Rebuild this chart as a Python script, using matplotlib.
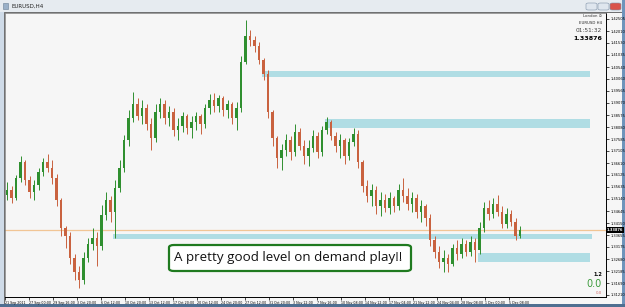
import numpy as np
import matplotlib.pyplot as plt
from matplotlib.patches import Rectangle, FancyBboxPatch

W, H = 625, 307

# EURUSD H4 candles (one candle here ~ 3 H4 bars), prices
first_open = 1.3530
closes = [1.3551, 1.3518, 1.3600, 1.3665, 1.3592, 1.3543, 1.3571, 1.3624, 1.3665, 1.3641,
          1.3600, 1.3510, 1.3395, 1.3362, 1.3272, 1.3215, 1.3182, 1.3272, 1.3330, 1.3354,
          1.3322, 1.3448, 1.3510, 1.3461, 1.3559, 1.3641, 1.3755, 1.3845, 1.3903, 1.3854,
          1.3886, 1.3821, 1.3764, 1.3870, 1.3903, 1.3845, 1.3870, 1.3796, 1.3813, 1.3854,
          1.3804, 1.3829, 1.3854, 1.3821, 1.3886, 1.3919, 1.3895, 1.3927, 1.3878, 1.3903,
          1.3845, 1.3886, 1.4075, 1.4181, 1.4165, 1.4140, 1.4083, 1.4025, 1.3870, 1.3764,
          1.3682, 1.3714, 1.3755, 1.3706, 1.3788, 1.3731, 1.3690, 1.3723, 1.3772, 1.3706,
          1.3796, 1.3829, 1.3772, 1.3731, 1.3755, 1.3690, 1.3747, 1.3780, 1.3665, 1.3567,
          1.3526, 1.3551, 1.3485, 1.3510, 1.3477, 1.3518, 1.3485, 1.3551, 1.3526, 1.3493,
          1.3518, 1.3461, 1.3485, 1.3436, 1.3346, 1.3297, 1.3256, 1.3272, 1.3248, 1.3313,
          1.3289, 1.3330, 1.3297, 1.3338, 1.3305, 1.3395, 1.3477, 1.3453, 1.3493, 1.3461,
          1.3412, 1.3453, 1.3420, 1.3362, 1.33876]
highs = [1.3583, 1.3567, 1.3612, 1.3690, 1.3674, 1.3608, 1.3592, 1.3641, 1.3682, 1.3698,
         1.3674, 1.3616, 1.3518, 1.3403, 1.3379, 1.3289, 1.3240, 1.3297, 1.3354, 1.3395,
         1.3379, 1.3489, 1.3543, 1.3526, 1.3592, 1.3674, 1.3776, 1.3878, 1.3952, 1.3927,
         1.3919, 1.3903, 1.3845, 1.3903, 1.3927, 1.3919, 1.3895, 1.3886, 1.3845, 1.3870,
         1.3862, 1.3854, 1.3870, 1.3862, 1.3903, 1.3944, 1.3948, 1.3940, 1.3935, 1.3919,
         1.3911, 1.3911, 1.4099, 1.4246, 1.4206, 1.4181, 1.4156, 1.4091, 1.4042, 1.3878,
         1.3772, 1.3739, 1.3780, 1.3772, 1.3821, 1.3804, 1.3755, 1.3755, 1.3796, 1.3788,
         1.3813, 1.3849, 1.3837, 1.3788, 1.3780, 1.3764, 1.3764, 1.3804, 1.3796, 1.3674,
         1.3592, 1.3575, 1.3567, 1.3543, 1.3534, 1.3543, 1.3526, 1.3575, 1.3600, 1.3559,
         1.3543, 1.3534, 1.3510, 1.3493, 1.3453, 1.3362, 1.3322, 1.3305, 1.3289, 1.3330,
         1.3346, 1.3354, 1.3346, 1.3362, 1.3354, 1.3420, 1.3502, 1.3510, 1.3518, 1.3530,
         1.3485, 1.3477, 1.3469, 1.3436, 1.3403]
lows = [1.3510, 1.3498, 1.3510, 1.3583, 1.3571, 1.3518, 1.3510, 1.3551, 1.3608, 1.3624,
        1.3575, 1.3485, 1.3362, 1.3313, 1.3248, 1.3182, 1.3150, 1.3166, 1.3256, 1.3305,
        1.3240, 1.3305, 1.3428, 1.3420, 1.3354, 1.3543, 1.3624, 1.3731, 1.3829, 1.3837,
        1.3821, 1.3796, 1.3714, 1.3747, 1.3845, 1.3821, 1.3813, 1.3772, 1.3755, 1.3788,
        1.3780, 1.3764, 1.3796, 1.3780, 1.3804, 1.3862, 1.3870, 1.3870, 1.3854, 1.3845,
        1.3821, 1.3796, 1.3870, 1.4066, 1.4140, 1.4115, 1.4066, 1.4001, 1.3845, 1.3731,
        1.3641, 1.3633, 1.3690, 1.3674, 1.3690, 1.3714, 1.3657, 1.3649, 1.3706, 1.3682,
        1.3690, 1.3780, 1.3755, 1.3706, 1.3682, 1.3657, 1.3674, 1.3731, 1.3641, 1.3543,
        1.3502, 1.3485, 1.3453, 1.3444, 1.3461, 1.3453, 1.3461, 1.3469, 1.3502, 1.3469,
        1.3461, 1.3436, 1.3420, 1.3403, 1.3322, 1.3272, 1.3232, 1.3215, 1.3215, 1.3240,
        1.3264, 1.3272, 1.3281, 1.3281, 1.3256, 1.3289, 1.3379, 1.3428, 1.3436, 1.3444,
        1.3395, 1.3395, 1.3403, 1.3346, 1.3354]

price_labels = ['1.42505', '1.42010', '1.41530', '1.41035', '1.40540', '1.40060',
                '1.39565', '1.39070', '1.38575', '1.38080', '1.37585', '1.37105',
                '1.36610', '1.36125', '1.35635', '1.35140', '1.34645', '1.34150',
                '1.33655', '1.33175', '1.32680', '1.32185', '1.31690', '1.31210']
date_labels = ['21 Sep 2011', '27 Sep 00:00', '29 Sep 16:00', '3 Oct 20:00', '6 Oct 12:00',
               '10 Oct 20:00', '13 Oct 12:00', '17 Oct 20:00', '20 Oct 12:00', '24 Oct 20:00',
               '27 Oct 12:00', '31 Oct 20:00', '3 Nov 12:00', '7 Nov 16:00', '10 Nov 08:00',
               '14 Nov 12:00', '17 Nov 04:00', '21 Nov 12:00', '24 Nov 04:00', '28 Nov 08:00',
               '1 Dec 00:00', '5 Dec 08:00']

# supply / demand zones drawn on the chart
zone_top = [1.4038, 1.3841, 1.3371, 1.3293]
zone_bottom = [1.4013, 1.3804, 1.3350, 1.3256]
zone_start = [56.7, 70.7, 23.6, 104.7]
zone_end = [129.6, 129.6, 130.0, 129.6]

last_price = '1.33876'
note = 'A pretty good level on demand play!!'

def fx(px):
    return px / W

def fy(py):
    return 1 - py / H

def chrome(x0, y0, w, h, **kw):
    # window decoration rectangle in pixel coords, drawn behind the chart
    fig.patches.append(Rectangle((fx(x0), fy(y0 + h)), w / W, h / H,
                                 transform=fig.transFigure, zorder=-5, **kw))

fig = plt.figure(figsize=(W / 100, H / 100), dpi=100)
fig.patch.set_facecolor('#cfdbe8')

chrome(0, 0, W, 12, facecolor='#e6ebf0', edgecolor='none')
chrome(4, 12, 618, 292, facecolor='#f6f6f6', edgecolor='#5a5a5a', lw=0.6)
chrome(622, 0, 3, H, facecolor='#6f94bb', edgecolor='none')
chrome(0, 304, W, 3, facecolor='#4f6f91', edgecolor='none')
chrome(3, 3, 5, 6, facecolor='#9ab0c8', edgecolor='#6a7f96', lw=0.4)
fig.text(fx(12), fy(6), 'EURUSD,H4', fontsize=4, color='#222222', va='center')
for bx, col in [(586, '#dfe6ee'), (598, '#dfe6ee'), (610, '#d9534a')]:
    fig.patches.append(FancyBboxPatch((fx(bx), fy(10)), 11 / W, 7 / H,
                                      boxstyle='round,pad=0,rounding_size=0.004',
                                      transform=fig.transFigure, facecolor=col,
                                      edgecolor='#8093a8', lw=0.4, zorder=-4))

ax = fig.add_axes([fx(5), fy(297), 601 / W, 284 / H])
ax.set_facecolor('#f6f6f6')

o = np.array([first_open] + closes[:-1])
c = np.array(closes)
hi = np.array(highs)
lo = np.array(lows)
x = np.arange(len(c))
cols = np.where(c >= o, '#2f8f2f', '#c9623f')

for z0, z1, zt, zb in zip(zone_start, zone_end, zone_top, zone_bottom):
    ax.add_patch(Rectangle((z0, zb), z1 - z0, zt - zb, facecolor='#b0dde4',
                           edgecolor='none', zorder=1))

ax.axhline(float(last_price), color='#f1c595', lw=0.9, zorder=1.5)

ax.vlines(x, np.minimum(lo, np.minimum(o, c)), np.maximum(hi, np.maximum(o, c)),
          colors=cols, lw=0.7, zorder=2)
ax.bar(x, np.maximum(np.abs(c - o), 0.00012), bottom=np.minimum(o, c), width=0.5,
       color=cols, lw=0, zorder=3)

ax.set_xlim(-2 / 4.5, 599 / 4.5)
step = (1.42505 - 1.31210) / 276
ax.set_ylim(1.31210 - 2 * step, 1.42505 + 6 * step)

for s in ['top', 'left']:
    ax.spines[s].set_color('#777777')
    ax.spines[s].set_linewidth(0.5)
for s in ['right', 'bottom']:
    ax.spines[s].set_color('black')
    ax.spines[s].set_linewidth(0.7)

ax.yaxis.tick_right()
ax.set_yticks([float(p) for p in price_labels])
ax.set_yticklabels(price_labels)
ax.tick_params(axis='y', length=2, width=0.5, pad=1, labelsize=2.6, colors='black')

tick_pos = -2 / 4.5 + np.arange(len(date_labels)) * 16 / 3
ax.set_xticks(tick_pos)
ax.set_xticklabels(date_labels)
ax.tick_params(axis='x', length=2, width=0.5, pad=0.8, labelsize=2.35, colors='black')
for t in ax.get_xticklabels():
    t.set_ha('left')

# current price marker on the price scale
ax.text(1.0015, float(last_price), last_price, transform=ax.get_yaxis_transform(),
        fontsize=2.6, color='white', va='center', ha='left', fontweight='bold',
        bbox=dict(boxstyle='square,pad=0.25', facecolor='black', edgecolor='none'), zorder=5)

# info block, top right
fig.text(fx(602), fy(16), 'London \u2299', fontsize=2.8, ha='right', va='center', color='#333333')
fig.text(fx(602), fy(23), 'EURUSD H4', fontsize=2.8, ha='right', va='center', color='#222222')
fig.text(fx(602), fy(30), '01:51:32', fontsize=4.2, ha='right', va='center', color='#444444')
fig.text(fx(602), fy(38), last_price, fontsize=4.6, ha='right', va='center',
         color='black', fontweight='bold')

# bottom right counters
fig.text(fx(602), fy(274), '1.2', fontsize=3.6, ha='right', va='center',
         color='black', fontweight='bold')
fig.text(fx(602), fy(284), '0.0', fontsize=7, ha='right', va='center', color='#3a9a3a')
fig.text(fx(602), fy(293), '0.0', fontsize=2.8, ha='right', va='center', color='#d06a6a')

# annotation box
fig.patches.append(FancyBboxPatch((fx(169), fy(271)), 242 / W, 26 / H,
                                  boxstyle='round,pad=0,rounding_size=0.008',
                                  transform=fig.transFigure, facecolor='white',
                                  edgecolor='#1f7a1f', lw=1.6, zorder=10))
fig.text(fx(288), fy(258), note, fontsize=9.6, family=['Open Sans', 'DejaVu Sans'],
         ha='center', va='center', color='#111111', zorder=11)

fig.savefig('out.png', dpi=100, facecolor=fig.get_facecolor())
